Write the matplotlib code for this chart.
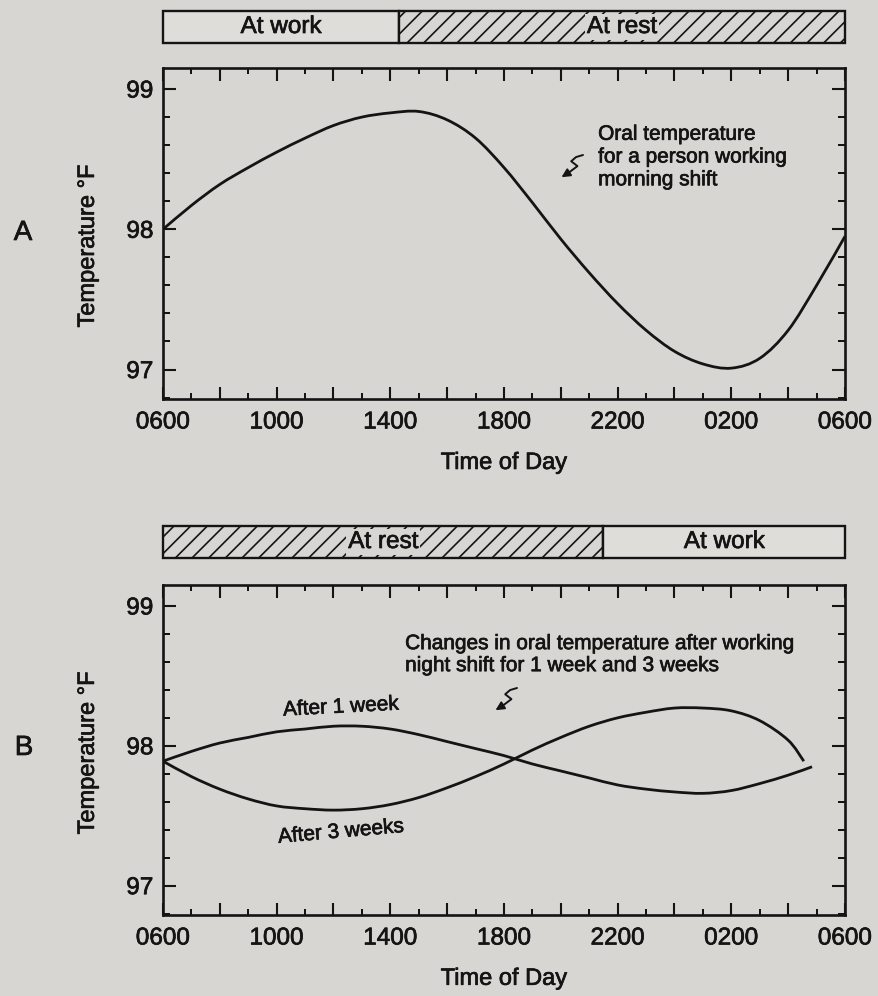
import numpy as np
import matplotlib
matplotlib.use("Agg")
import matplotlib.pyplot as plt
from matplotlib.transforms import ScaledTranslation
from matplotlib.path import Path
from matplotlib.patches import PathPatch
import matplotlib.patheffects as pe

plt.rcParams['font.family'] = ['Liberation Sans', 'DejaVu Sans']
plt.rcParams['hatch.linewidth'] = 1.2

# ---------------- data ----------------
hours = list(range(0, 25))  # hours after 0600
temp_morning = [98.00, 98.17, 98.32, 98.44, 98.55, 98.65, 98.74, 98.80, 98.83,
                98.84, 98.78, 98.65, 98.44, 98.19, 97.93, 97.69, 97.47, 97.28,
                97.13, 97.04, 97.01, 97.08, 97.28, 97.60, 97.95]

hours_1wk = list(range(0, 23)) + [22.84]
temp_1wk = [97.89, 97.96, 98.02, 98.06, 98.10, 98.12, 98.14, 98.14, 98.12,
            98.08, 98.03, 97.98, 97.93, 97.87, 97.82, 97.77, 97.72, 97.69,
            97.67, 97.66, 97.68, 97.73, 97.79, 97.85]

hours_3wk = list(range(0, 23)) + [22.55]
temp_3wk = [97.89, 97.78, 97.69, 97.62, 97.57, 97.55, 97.54, 97.55, 97.58,
            97.63, 97.70, 97.78, 97.87, 97.97, 98.06, 98.14, 98.20, 98.24,
            98.27, 98.27, 98.25, 98.18, 98.04, 97.89]

tick_hours = [0, 4, 8, 12, 16, 20, 24]
tick_labels = ['0600', '1000', '1400', '1800', '2200', '0200', '0600']
y_ticks = [97, 98, 99]

# activity bars: (label, start hour, end hour, hatched)
barA_labels = ['At work', 'At rest']
barA_start = [0, 8.3]
barA_end = [8.3, 24]
barA_hatch = [False, True]

barB_labels = ['At rest', 'At work']
barB_start = [0, 15.5]
barB_end = [15.5, 24]
barB_hatch = [True, False]

# ---------------- style ----------------
W, H = 879, 996
bg = '#d8d6d3'
ink = '#141414'
fig = plt.figure(figsize=(W / 100, H / 100), dpi=100, facecolor=bg)
BOLDEN = [pe.withStroke(linewidth=0.5, foreground=ink)]

L, R = 163, 845


def fax(left, top, right, bottom):
    return fig.add_axes([left / W, 1 - bottom / H, (right - left) / W, (bottom - top) / H])


axA = fax(L, 68, R, 399)
barA = fax(L, 11, R, 43)
axB = fax(L, 585, R, 915)
barB = fax(L, 526, R, 558)


def smooth_curve(ax, xs, ys, **kw):
    """Draw a smooth (Catmull-Rom / Bezier) line through the read points."""
    P = np.column_stack([xs, ys]).astype(float)
    n = len(P)
    verts = [P[0]]
    codes = [Path.MOVETO]
    for i in range(n - 1):
        p0 = P[i - 1] if i > 0 else P[i]
        p1, p2 = P[i], P[i + 1]
        p3 = P[i + 2] if i + 2 < n else P[i + 1]
        c1 = p1 + (p2 - p0) / 6.0
        c2 = p2 - (p3 - p1) / 6.0
        verts += [c1, c2, p2]
        codes += [Path.CURVE4] * 3
    ax.add_patch(PathPatch(Path(verts, codes), facecolor='none', **kw))


def style_main(ax, label_y):
    ax.set_facecolor(bg)
    ax.set_xlim(0, 24)
    ax.set_ylim(96.79, 99.15)
    for s in ax.spines.values():
        s.set_linewidth(1.9)
        s.set_color(ink)
    majors = list(range(0, 25, 2))
    labs = [tick_labels[tick_hours.index(h)] if h in tick_hours else '' for h in majors]
    ax.set_xticks(majors)
    ax.set_xticklabels(labs)
    ax.set_xticks(list(range(0, 25)), minor=True)
    ax.set_yticks(y_ticks)
    ax.set_yticklabels([str(v) for v in y_ticks])
    ax.set_yticks(list(np.arange(96.8, 99.15, 0.2)), minor=True)
    ax.tick_params(axis='x', which='major', direction='in', length=9, width=1.5,
                   top=True, bottom=True, pad=9, labelsize=17.5, colors=ink)
    ax.tick_params(axis='x', which='minor', direction='in', length=4.5, width=1.3,
                   top=True, bottom=True)
    ax.tick_params(axis='y', which='major', direction='in', length=9.5, width=1.5,
                   left=True, right=True, pad=7, labelsize=17.5, colors=ink)
    ax.tick_params(axis='y', which='minor', direction='in', length=5, width=1.3,
                   left=True, right=True)
    for t in ax.get_xticklabels() + ax.get_yticklabels():
        t.set_path_effects(BOLDEN)
    ax.set_xlabel('Time of Day', fontsize=17, color=ink, path_effects=BOLDEN)
    ax.xaxis.set_label_coords(0.5, -0.16)
    ax.set_ylabel('Temperature °F', fontsize=17, color=ink, path_effects=BOLDEN)
    ax.yaxis.set_label_coords(-0.094, label_y)


def style_bar(ax, labels, starts, ends, hatches):
    ax.set_xlim(0, 24)
    ax.set_ylim(0, 1)
    ax.axis('off')
    widths = [e - s for s, e in zip(starts, ends)]
    for lab, s, w, h in zip(labels, starts, widths, hatches):
        ax.barh(0.5, w, left=s, height=1.0, facecolor='#dfddda' if not h else bg,
                edgecolor=ink, linewidth=1.7, hatch='//' if h else None,
                clip_on=False)
        kw = dict(ha='center', va='center', fontsize=17.5, color=ink,
                  path_effects=BOLDEN)
        if h:
            kw['bbox'] = dict(boxstyle='square,pad=0.08', facecolor=bg, edgecolor='none')
        ax.text(s + w / 2, 0.5, lab, **kw)


def squiggle(ax, x, y):
    tr = ax.transAxes
    pts = [(0, 0), (-5, -1.5), (-8.5, -4.5), (-4, -8), (-10, -12.5)]
    xs, ys = [], []
    for px, py in pts:
        p = (tr + ScaledTranslation(px / 72, py / 72, fig.dpi_scale_trans)).transform((x, y))
        xs.append(p[0]); ys.append(p[1])
    ax.plot(xs, ys, transform=None, color=ink, lw=1.4, solid_capstyle='round',
            solid_joinstyle='round')
    end = (tr + ScaledTranslation(-15.5 / 72, -16 / 72, fig.dpi_scale_trans)).transform((x, y))
    ax.annotate('', xy=end, xycoords='figure pixels',
                xytext=(xs[-1], ys[-1]), textcoords='figure pixels',
                arrowprops=dict(arrowstyle='-|>,head_length=0.5,head_width=0.25',
                                color=ink, lw=1.4, shrinkA=0, shrinkB=0))


# ---------------- panel A ----------------
style_main(axA, 0.462)
smooth_curve(axA, hours, temp_morning, edgecolor=ink, lw=2.0)
style_bar(barA, barA_labels, barA_start, barA_end, barA_hatch)
axA.text(0.638, 0.731, 'Oral temperature\nfor a person working\nmorning shift',
         transform=axA.transAxes, ha='left', va='center', fontsize=15,
         linespacing=1.25, color=ink, path_effects=BOLDEN)
squiggle(axA, (583 - L) / 682, (399 - 155) / 331)
fig.text(23 / W, 1 - 233 / H, 'A', ha='center', va='center', fontsize=20, color=ink,
         path_effects=BOLDEN)

# ---------------- panel B ----------------
style_main(axB, 0.491)
smooth_curve(axB, hours_1wk, temp_1wk, edgecolor=ink, lw=2.0)
smooth_curve(axB, hours_3wk, temp_3wk, edgecolor=ink, lw=2.0)
style_bar(barB, barB_labels, barB_start, barB_end, barB_hatch)
axB.text(0.355, 0.789, 'Changes in oral temperature after working\nnight shift for 1 week and 3 weeks',
         transform=axB.transAxes, ha='left', va='center', fontsize=15,
         linespacing=1.2, color=ink, path_effects=BOLDEN)
axB.text(0.261, 0.630, 'After 1 week', transform=axB.transAxes, ha='center',
         va='center', fontsize=15, rotation=3, color=ink, path_effects=BOLDEN)
axB.text(0.261, 0.252, 'After 3 weeks', transform=axB.transAxes, ha='center',
         va='center', fontsize=15, rotation=5, color=ink, path_effects=BOLDEN)
squiggle(axB, (517 - L) / 682, (915 - 688) / 330)
fig.text(24 / W, 1 - 748 / H, 'B', ha='center', va='center', fontsize=20, color=ink,
         path_effects=BOLDEN)

fig.savefig('out.png', dpi=100, facecolor=bg)
